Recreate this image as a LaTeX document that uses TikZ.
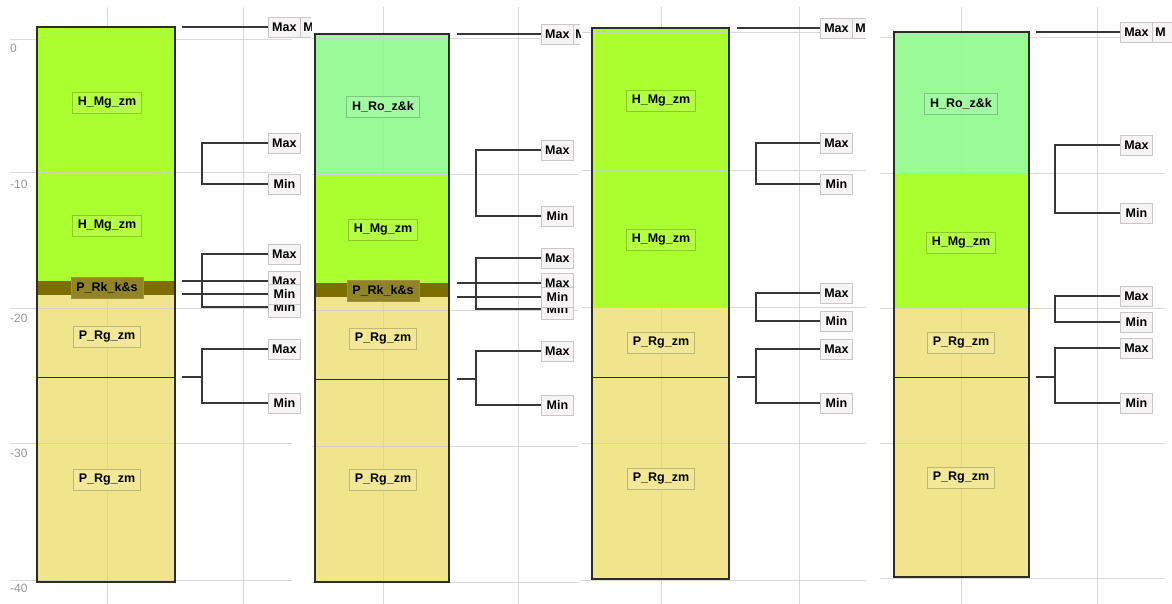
\documentclass[tikz,border=0pt]{standalone}
\usepackage{fontspec}
\setmainfont{Liberation Sans}
\definecolor{mgc}{RGB}{172,255,47}
\definecolor{roc}{RGB}{152,251,152}
\definecolor{rkc}{RGB}{126,110,0}
\definecolor{rgc}{RGB}{240,229,140}
\definecolor{gridc}{RGB}{205,205,205}
\definecolor{framec}{RGB}{45,45,35}
\definecolor{connc}{RGB}{55,55,55}
\definecolor{mmfill}{RGB}{246,244,244}
\definecolor{mmdraw}{RGB}{200,200,200}
\definecolor{axisc}{RGB}{150,150,150}
\tikzset{
  gridline/.style={draw=gridc, line width=1pt, opacity=0.75},
  colframe/.style={draw=framec, line width=1.3pt},
  layerline/.style={draw=framec, line width=1pt},
  conn/.style={draw=connc, line width=1.2pt},
  unitlbl/.style={font=\bfseries\fontsize{12.5}{13}\selectfont, inner xsep=5.5pt,
    inner ysep=0pt, minimum height=21pt, line width=0.8pt},
  mglbl/.style={unitlbl, fill=mgc!90!white, draw=mgc!80!black},
  rolbl/.style={unitlbl, fill=roc!90!white, draw=roc!80!black},
  rklbl/.style={unitlbl, fill=rkc!85!white, draw=rkc!75!white},
  rglbl/.style={unitlbl, fill=rgc!90!white, draw=rgc!80!black},
  mm/.style={font=\bfseries\fontsize{12.5}{13}\selectfont, fill=mmfill, draw=mmdraw,
    line width=0.8pt, inner sep=0pt, minimum width=32pt, minimum height=20pt, anchor=west},
  mmedge/.style={mm, text width=26pt, align=left, inner xsep=3pt, minimum width=32pt},
  axislbl/.style={font=\fontsize{12}{12}\selectfont, text=axisc, anchor=west, inner sep=0pt}
}
% Max/Min bracket: #1 name, #2 bracket x, #3 label x, #4 upper y, #5 lower y
\newcommand{\mmbracket}[5]{%
  \node[mm] (#1hi) at (#3,#4) {Max};
  \node[mm] (#1lo) at (#3,#5) {Min};
  \coordinate (#1k) at (#2,#4);
  \draw[conn] (#1hi) -- (#1k) |- (#1lo);
}
\begin{document}
\begin{tikzpicture}[x=1pt,y=-1pt]
\useasboundingbox (0,0) rectangle (1172,604);
\fill[white] (0,0) rectangle (1172,604);

% ---------------- column 1 ----------------
\fill[mgc] (37,27) rectangle (175,281);
\fill[rkc] (37,281) rectangle (175,295);
\fill[rgc] (37,295) rectangle (175,582);
\foreach \y in {40,173,308,443,580} \draw[gridline] (10,\y) -- (292,\y);
\foreach \x in {107,243} \draw[gridline] (\x,7) -- (\x,604);
\draw[layerline] (37,377) -- (175,377);
\draw[colframe] (37,27) rectangle (175,582);
\node[axislbl] (ax0) at (10,48) {0};
\node[axislbl] (ax10) at (10,184) {-10};
\node[axislbl] (ax20) at (10,318) {-20};
\node[axislbl] (ax30) at (10,453) {-30};
\node[axislbl] (ax40) at (10,588) {-40};
\node[mglbl] (a1) at (107,103) {H\_Mg\_zm};
\node[mglbl] (a2) at (107,226) {H\_Mg\_zm};
\node[rklbl] (a3) at (107,288) {P\_Rk\_k\&s};
\node[rglbl] (a4) at (107,337) {P\_Rg\_zm};
\node[rglbl] (a5) at (107,480) {P\_Rg\_zm};

\begin{scope}
  \clip (260,0) rectangle (311,60);
  \node[mmedge] (atopb) at (300,27) {M};
\end{scope}
\node[mm] (atop) at (268,27) {Max};
\coordinate (atops) at (182,27);
\draw[conn] (atops) -- (atop);
\mmbracket{aA}{202}{268}{143}{184}
\mmbracket{aB}{202}{268}{254}{307}
\node[mm] (aRkT) at (268,281) {Max};
\node[mm] (aRkB) at (268,294) {Min};
\coordinate (aRkTs) at (182,281);
\coordinate (aRkBs) at (182,294);
\draw[conn] (aRkTs) -- (aRkT);
\draw[conn] (aRkBs) -- (aRkB);
\mmbracket{aC}{202}{268}{349}{403}
\coordinate (aCs) at (182,377);
\coordinate (aCj) at (202,377);
\draw[conn] (aCs) -- (aCj);

% ---------------- column 2 ----------------
\fill[roc] (315,34) rectangle (449,176);
\fill[mgc] (315,176) rectangle (449,283);
\fill[rkc] (315,283) rectangle (449,297);
\fill[rgc] (315,297) rectangle (449,582);
\foreach \y in {39,175,310,446,582} \draw[gridline] (312,\y) -- (578,\y);
\foreach \x in {383,518} \draw[gridline] (\x,7) -- (\x,604);
\draw[layerline] (315,379) -- (449,379);
\draw[colframe] (315,34) rectangle (449,582);
\node[rolbl] (b1) at (383,107) {H\_Ro\_z\&k};
\node[mglbl] (b2) at (383,230) {H\_Mg\_zm};
\node[rklbl] (b3) at (383,291) {P\_Rk\_k\&s};
\node[rglbl] (b4) at (383,339) {P\_Rg\_zm};
\node[rglbl] (b5) at (383,480) {P\_Rg\_zm};

\begin{scope}
  \clip (530,0) rectangle (580,60);
  \node[mmedge] (btopb) at (572,34) {M};
\end{scope}
\node[mm] (btop) at (541,34) {Max};
\coordinate (btops) at (457,34);
\draw[conn] (btops) -- (btop);
\mmbracket{bA}{476}{541}{150}{216}
\mmbracket{bB}{476}{541}{258}{309}
\node[mm] (bRkT) at (541,283) {Max};
\node[mm] (bRkB) at (541,297) {Min};
\coordinate (bRkTs) at (457,283);
\coordinate (bRkBs) at (457,297);
\draw[conn] (bRkTs) -- (bRkT);
\draw[conn] (bRkBs) -- (bRkB);
\mmbracket{bC}{476}{541}{351}{405}
\coordinate (bCs) at (457,379);
\coordinate (bCj) at (476,379);
\draw[conn] (bCs) -- (bCj);

% ---------------- column 3 ----------------
\fill[mgc] (592,28) rectangle (729,307);
\fill[rgc] (592,307) rectangle (729,579);
\foreach \y in {33,171,307,443,580} \draw[gridline] (582,\y) -- (866,\y);
\foreach \x in {661,799} \draw[gridline] (\x,7) -- (\x,604);
\draw[layerline] (592,377) -- (729,377);
\draw[colframe] (592,28) rectangle (729,579);
\node[mglbl] (c1) at (661,101) {H\_Mg\_zm};
\node[mglbl] (c2) at (661,240) {H\_Mg\_zm};
\node[rglbl] (c3) at (661,343) {P\_Rg\_zm};
\node[rglbl] (c4) at (661,479) {P\_Rg\_zm};

\begin{scope}
  \clip (810,0) rectangle (866,60);
  \node[mmedge] (ctopb) at (852,28) {M};
\end{scope}
\node[mm] (ctop) at (820,28) {Max};
\coordinate (ctops) at (737,28);
\draw[conn] (ctops) -- (ctop);
\mmbracket{cA}{756}{820}{143}{184}
\mmbracket{cB}{756}{820}{293}{321}
\mmbracket{cC}{756}{820}{349}{403}
\coordinate (cCs) at (737,377);
\coordinate (cCj) at (756,377);
\draw[conn] (cCs) -- (cCj);

% ---------------- column 4 ----------------
\fill[roc] (894,32) rectangle (1029,174);
\fill[mgc] (894,174) rectangle (1029,308);
\fill[rgc] (894,308) rectangle (1029,577);
\foreach \y in {38,174,308,443,578} \draw[gridline] (880,\y) -- (1165,\y);
\foreach \x in {961,1097} \draw[gridline] (\x,7) -- (\x,604);
\draw[layerline] (894,377) -- (1029,377);
\draw[colframe] (894,32) rectangle (1029,577);
\node[rolbl] (d1) at (961,104) {H\_Ro\_z\&k};
\node[mglbl] (d2) at (961,243) {H\_Mg\_zm};
\node[rglbl] (d3) at (961,343) {P\_Rg\_zm};
\node[rglbl] (d4) at (961,478) {P\_Rg\_zm};

\begin{scope}
  \clip (1110,0) rectangle (1172,60);
  \node[mmedge] (dtopb) at (1152,32) {M};
\end{scope}
\node[mm] (dtop) at (1120,32) {Max};
\coordinate (dtops) at (1036,32);
\draw[conn] (dtops) -- (dtop);
\mmbracket{dA}{1055}{1120}{145}{213}
\mmbracket{dB}{1055}{1120}{296}{322}
\mmbracket{dC}{1055}{1120}{348}{403}
\coordinate (dCs) at (1036,377);
\coordinate (dCj) at (1055,377);
\draw[conn] (dCs) -- (dCj);
\end{tikzpicture}
\end{document}
